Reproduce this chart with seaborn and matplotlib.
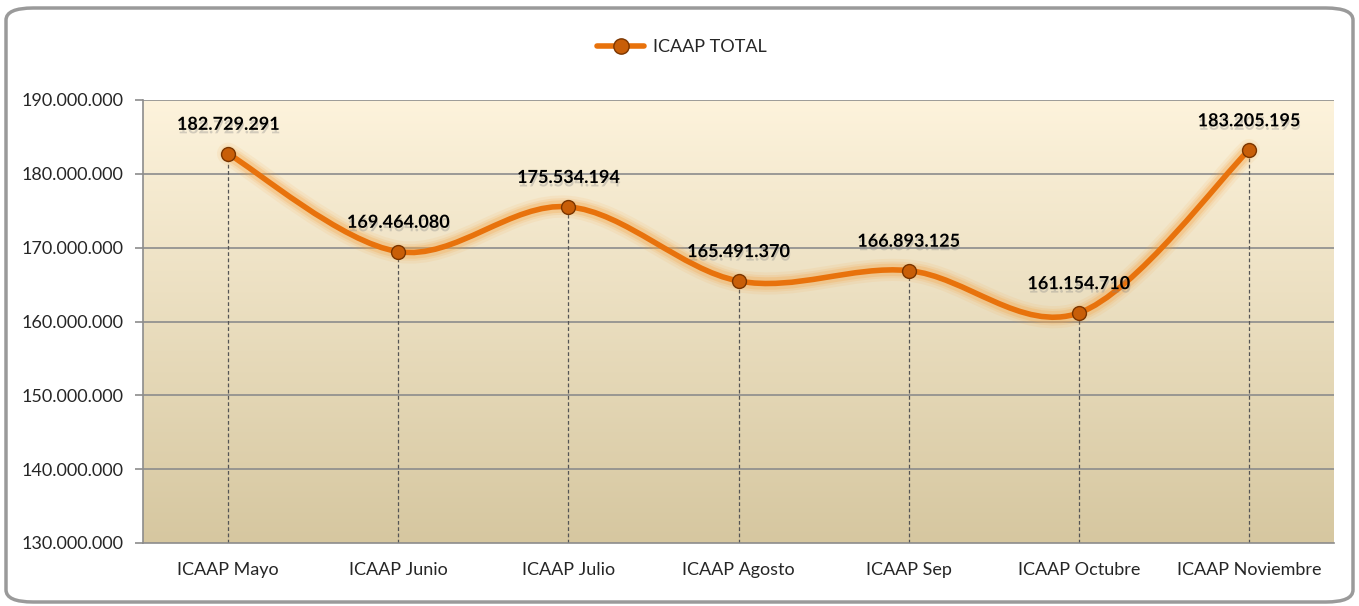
import numpy as np
import pandas as pd
import matplotlib
matplotlib.use("Agg")
import matplotlib.pyplot as plt
import seaborn as sns
from matplotlib.path import Path
from matplotlib.patches import PathPatch, FancyBboxPatch
from matplotlib.lines import Line2D
import matplotlib.patheffects as pe
from matplotlib.ticker import FuncFormatter

# Data
meses = ["ICAAP Mayo", "ICAAP Junio", "ICAAP Julio", "ICAAP Agosto",
         "ICAAP Sep", "ICAAP Octubre", "ICAAP Noviembre"]
valores = [182729291, 169464080, 175534194, 165491370, 166893125, 161154710, 183205195]
serie = "ICAAP TOTAL"

df = pd.DataFrame({"mes": meses, "valor": valores, "x": range(len(meses))})

sns.set_style("white")
plt.rcParams["font.family"] = ["Lato", "DejaVu Sans"]

fig = plt.figure(figsize=(13.59, 6.06), dpi=100)
ax = fig.add_axes([143 / 1359, 1 - 543 / 606, (1334 - 143) / 1359, (543 - 100) / 606])

ymin, ymax = 130e6, 190e6
ax.set_xlim(-0.5, len(meses) - 0.5)
ax.set_ylim(ymin, ymax)

# gradient background of plot area
top = np.array([253, 243, 220]) / 255
bot = np.array([214, 199, 160]) / 255
t = np.linspace(0, 1, 256)[:, None]
grad = (top * (1 - t) + bot * t)[:, None, :]
ax.imshow(grad, extent=(-0.5, len(meses) - 0.5, ymin, ymax), aspect="auto", zorder=0)

# grid lines
for yv in np.arange(140e6, 190e6 + 1, 10e6):
    ax.axhline(yv, color="#8c8c8c", lw=1.2, zorder=1)

# drop lines
for _, r in df.iterrows():
    ax.plot([r.x, r.x], [ymin, r.valor], color="#555555", lw=0.9, ls=(0, (3, 2)), zorder=2)

# smoothed line (Excel-like bezier)
xs = df["x"].to_numpy(dtype=float)
ys = df["valor"].to_numpy(dtype=float)
pts = np.column_stack([xs, ys])
verts = [pts[0]]
codes = [Path.MOVETO]
n = len(pts)
for i in range(n - 1):
    p0 = pts[max(i - 1, 0)]
    p1 = pts[i]
    p2 = pts[i + 1]
    p3 = pts[min(i + 2, n - 1)]
    c1 = p1 + (p2 - p0) / 6
    c2 = p2 - (p3 - p1) / 6
    verts += [c1, c2, p2]
    codes += [Path.CURVE4] * 3
path = Path(verts, codes)

for lw, a in [(16, 0.10), (12, 0.15), (9, 0.25)]:
    ax.add_patch(PathPatch(path, fill=False, edgecolor="#F5A445", lw=lw, alpha=a,
                           zorder=3, capstyle="round", joinstyle="round"))
ax.add_patch(PathPatch(path, fill=False, edgecolor="#E8720C", lw=4, zorder=4,
                       capstyle="round"))

sns.scatterplot(data=df, x="x", y="valor", ax=ax, s=100, color="#C85E08",
                edgecolor="#7A3500", linewidth=1.0, zorder=5, legend=False)

# data labels
for _, r in df.iterrows():
    ax.annotate(f"{r.valor:,}".replace(",", "."), (r.x, r.valor), xytext=(0, 15),
                textcoords="offset points", ha="center", va="bottom",
                fontsize=13, fontweight="bold", color="black", zorder=6,
                path_effects=[pe.withSimplePatchShadow(offset=(0.5, -2.5), shadow_rgbFace="#888888",
                                                       alpha=0.35)])

ax.set_xticks(range(len(meses)))
ax.set_xticklabels(meses, fontsize=13)
ax.set_yticks(np.arange(130e6, 190e6 + 1, 10e6))
ax.yaxis.set_major_formatter(FuncFormatter(lambda v, p: f"{int(v):,}".replace(",", ".")))
ax.tick_params(axis="y", labelsize=13, length=6, color="#8c8c8c", width=1.2, pad=8, left=True)
ax.tick_params(axis="x", length=0, pad=14)
ax.set_xlabel("")
ax.set_ylabel("")
for s in ["top", "right"]:
    ax.spines[s].set_visible(False)
ax.spines["left"].set_color("#8c8c8c")
ax.spines["left"].set_linewidth(1.2)
ax.spines["bottom"].set_color("#8c8c8c")
ax.spines["bottom"].set_linewidth(1.2)

# legend
h = Line2D([], [], color="#E8720C", lw=4, marker="o", markersize=11,
           markerfacecolor="#C85E08", markeredgecolor="#7A3500")
fig.legend([h], [serie], loc="center", bbox_to_anchor=(682 / 1359, 1 - 47 / 606),
           frameon=False, fontsize=13, handlelength=2.6, handletextpad=0.5)

# rounded outer border
fig.patches.append(FancyBboxPatch((6 / 1359, 4 / 606), 1347 / 1359, 594 / 606,
                                  boxstyle="round,pad=0,rounding_size=0.02",
                                  transform=fig.transFigure, fill=False,
                                  edgecolor="#9a9a9a", lw=2.5))

fig.savefig("out.png", dpi=100)
